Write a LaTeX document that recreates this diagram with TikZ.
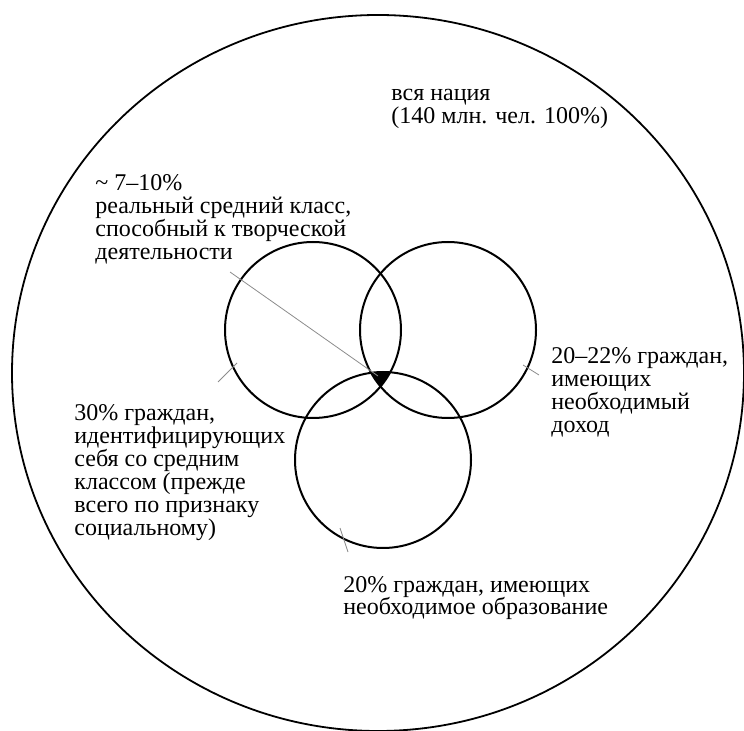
\documentclass[tikz,border=0pt]{standalone}
\usepackage{fontspec}
\setmainfont{Liberation Serif}
\usepackage{tikz}

\begin{document}
\begin{tikzpicture}[x=0.5pt,y=-0.5pt,
    venn/.style={circle,draw=black,line width=1pt,minimum size=88pt,inner sep=0pt},
    leader/.style={draw=black!45,line width=0.4pt},
    lbl/.style={anchor=base west,align=left,inner sep=0pt,font=\fontsize{12}{11.5}\selectfont}]
    \useasboundingbox (0,0) rectangle (744,731);

    % the whole nation
    \draw[line width=0.9pt] (378,373) ellipse [x radius=366, y radius=358];

    % three groups
    \node[venn] (cls) at (313,330) {};
    \node[venn] (inc) at (448,330) {};
    \node[venn] (edu) at (383,460) {};

    % core: inside all three
    \begin{scope}
        \clip (cls.center) circle (88);
        \clip (inc.center) circle (88);
        \fill[black] (edu.center) circle (88);
    \end{scope}

    % labels, placed by the baseline of their last line
    \node[lbl] (nation) at (391,124) {вся нация\\(140 млн. чел. 100\%)};
    \node[lbl] (corelbl) at (95,260) {\textasciitilde{} 7–10\%\\реальный средний класс,\\способный к творческой\\деятельности};
    \node[lbl] (clslbl) at (74,536) {30\% граждан,\\идентифицирующих\\себя со средним\\классом (прежде\\всего по признаку\\социальному)};
    \node[lbl] (inclbl) at (551,433) {20–22\% граждан,\\имеющих\\необходимый\\доход};
    \node[lbl] (edulbl) at (343,615) {20\% граждан, имеющих\\необходимое образование};

    % leader lines
    \coordinate (lead) at (230,272);
    \coordinate (core) at (378,376);
    \coordinate (clsa) at (218,382);
    \coordinate (clsb) at (237,363);
    \coordinate (inca) at (523,365);
    \coordinate (incb) at (539,375);
    \coordinate (edua) at (340,528);
    \coordinate (edub) at (348,552);
    \draw[leader] (lead) -- (core);
    \draw[leader] (clsa) -- (clsb);
    \draw[leader] (inca) -- (incb);
    \draw[leader] (edua) -- (edub);
\end{tikzpicture}
\end{document}
